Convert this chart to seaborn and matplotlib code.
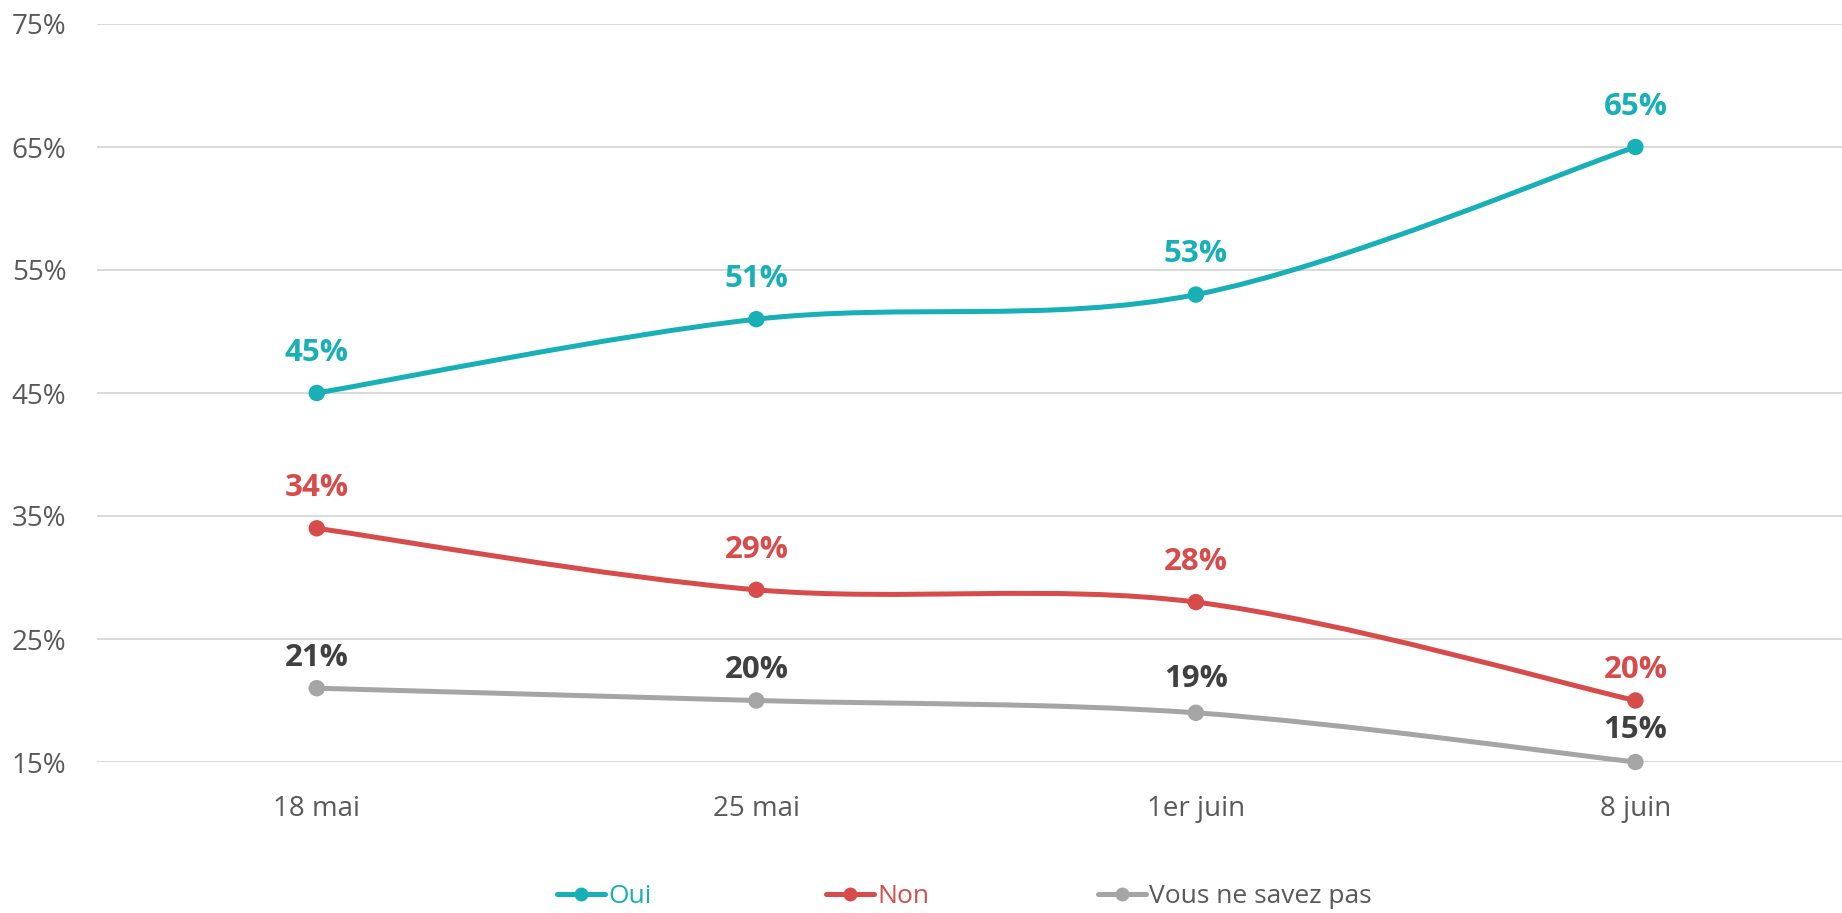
import numpy as np
import matplotlib
matplotlib.use("Agg")
import matplotlib.pyplot as plt
from matplotlib.path import Path
from matplotlib.patches import PathPatch
from matplotlib.lines import Line2D
import seaborn as sns
import pandas as pd

# --- data ---
dates = ["18 mai", "25 mai", "1er juin", "8 juin"]
oui = [45, 51, 53, 65]
non = [34, 29, 28, 20]
nsp = [21, 20, 19, 15]
series_names = ["Oui", "Non", "Vous ne savez pas"]

# --- style ---
colors = ["#17B0B6", "#D84B4B", "#A5A5A5"]
label_colors = ["#17B0B6", "#D84B4B", "#404040"]
legend_text_colors = ["#17B0B6", "#D84B4B", "#595959"]
label_offsets = [[29, 29, 29, 29], [29, 29, 29, 22], [22, 22, 24, 23]]

sns.set_style("white")
plt.rcParams["font.family"] = ["Open Sans", "DejaVu Sans"]

df = pd.DataFrame({"date": dates * 3,
                   "x": list(range(len(dates))) * 3,
                   "value": oui + non + nsp,
                   "serie": sum([[n] * len(dates) for n in series_names], [])})

fig = plt.figure(figsize=(18.42, 9.13), dpi=100)
ax = fig.add_axes([97 / 1842, 151 / 913, 1745 / 1842, 738 / 913])


def smooth_path(xs, ys):
    # bezier through the points (excel-like smoothed line)
    pts = np.column_stack([xs, ys]).astype(float)
    ext = np.vstack([pts[0], pts, pts[-1]])
    verts = [pts[0]]
    codes = [Path.MOVETO]
    for i in range(len(pts) - 1):
        p0, p1, p2, p3 = ext[i], ext[i + 1], ext[i + 2], ext[i + 3]
        verts += [p1 + (p2 - p0) / 6, p2 - (p3 - p1) / 6, p2]
        codes += [Path.CURVE4] * 3
    return Path(verts, codes)


for name, col in zip(series_names, colors):
    sub = df[df.serie == name]
    ax.add_patch(PathPatch(smooth_path(sub.x.values, sub.value.values),
                           facecolor="none", edgecolor=col, lw=3.6,
                           capstyle="round", zorder=3, clip_on=False))

sns.scatterplot(data=df, x="x", y="value", hue="serie", palette=colors,
                s=140, edgecolor="none", legend=False, ax=ax, zorder=4,
                clip_on=False)

for vals, lc, offs in zip([oui, non, nsp], label_colors, label_offsets):
    for i, (v, o) in enumerate(zip(vals, offs)):
        ax.annotate(f"{v}%", (i, v), xytext=(0, o), textcoords="offset points",
                    ha="center", va="center", fontsize=22.5, fontweight="bold",
                    color=lc, zorder=5)

ax.set_xlim(-0.5, 3.47)
ax.set_ylim(15, 75)
ax.set_yticks(range(15, 76, 10))
ax.set_yticklabels([f"{t}%" for t in range(15, 76, 10)])
ax.set_xticks(range(len(dates)))
ax.set_xticklabels(dates)
ax.tick_params(axis="both", length=0, labelsize=20, labelcolor="#595959")
ax.tick_params(axis="y", pad=22)
ax.tick_params(axis="x", pad=24)
ax.set_xlabel("")
ax.set_ylabel("")
ax.grid(axis="y", color="#D9D9D9", lw=1.4)
ax.grid(axis="x", visible=False)
for s in ax.spines.values():
    s.set_visible(False)

# legend, one entry per column like the original
legend_x = [557 / 1842, 826 / 1842, 1098 / 1842]
for name, col, tc, lx in zip(series_names, colors, legend_text_colors, legend_x):
    h = Line2D([], [], color=col, lw=3.6, marker="o", markersize=9)
    leg = fig.legend([h], [name], loc="center left", bbox_to_anchor=(lx, 0.018),
                     frameon=False, fontsize=19, handlelength=1.8,
                     handletextpad=0.15, borderpad=0, borderaxespad=0)
    for t in leg.get_texts():
        t.set_color(tc)

fig.savefig("out.png", dpi=100)
